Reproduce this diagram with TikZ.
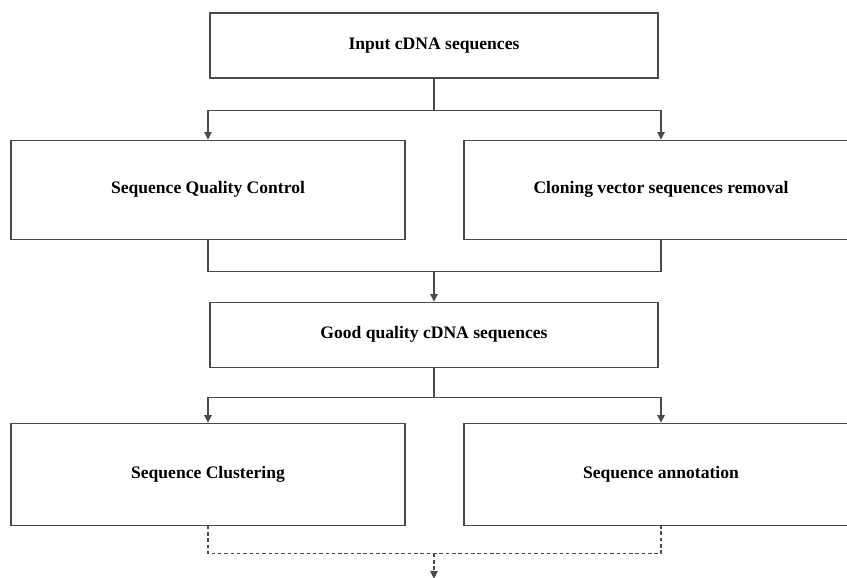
\documentclass[tikz,border=0pt]{standalone}
\usepackage{fontspec}
\setmainfont{Liberation Serif}
\usepackage{xcolor}
\usepackage{tikz}
\usetikzlibrary{arrows.meta,positioning,calc}
\definecolor{flowline}{HTML}{4A4A4A}

\begin{document}
\begin{tikzpicture}[
        font=\fontsize{10}{12}\selectfont\bfseries,
        midbox/.style={
            draw=flowline,
            line width=0.6pt,
            minimum width=8.96cm,
            minimum height=1.3cm,
            align=center
        },
        sidebox/.style={
            draw=flowline,
            line width=0.6pt,
            minimum width=7.88cm,
            minimum height=1.98cm,
            align=center
        },
        conn/.style={line width=0.6pt,flowline},
        line/.style={-{Triangle[length=1.5mm,width=1.5mm]},line width=0.6pt,flowline}
    ]
        \clip (-8.68,0.91) rectangle (8.26,-10.65);

        \node[midbox] (input) at (0,0) {Input cDNA sequences};
        \node[sidebox, below=1.22cm of input, xshift=-4.52cm] (qc) {Sequence Quality Control};
        \node[sidebox, below=1.22cm of input, xshift=4.54cm] (vector) {Cloning vector sequences removal};
        \node[midbox, below=1.24cm of qc, xshift=4.52cm] (good) {Good quality cDNA sequences};
        \node[sidebox, minimum height=2.04cm, below=1.1cm of good, xshift=-4.52cm] (cluster) {Sequence Clustering};
        \node[sidebox, minimum height=2.04cm, below=1.1cm of good, xshift=4.54cm] (annot) {Sequence annotation};

        % split after the input
        \coordinate (split1) at ($(input.south)+(0,-0.64)$);
        \draw[conn] (input.south) -- (split1);
        \draw[line] (split1) -| (qc.north);
        \draw[line] (split1) -| (vector.north);

        % join into the good sequences
        \coordinate (join1) at ($(qc.south)+(0,-0.64)$);
        \draw[conn] (qc.south) -- (join1) -| (vector.south);
        \draw[line] (join1 -| good.north) -- (good.north);

        % second split
        \coordinate (split2) at ($(good.south)+(0,-0.6)$);
        \draw[conn] (good.south) -- (split2);
        \draw[line] (split2) -| (cluster.north);
        \draw[line] (split2) -| (annot.north);

        % dashed join at the bottom
        \coordinate (join2) at ($(cluster.south)+(0,-0.56)$);
        \coordinate (onward) at ($(join2 -| good.north)+(0,-0.5)$);
        \draw[conn, dash pattern=on 2pt off 1.6pt] (cluster.south) -- (join2) -| (annot.south);
        \draw[line, dash pattern=on 2pt off 1.6pt] (join2 -| good.north) -- (onward);
    \end{tikzpicture}
\end{document}
